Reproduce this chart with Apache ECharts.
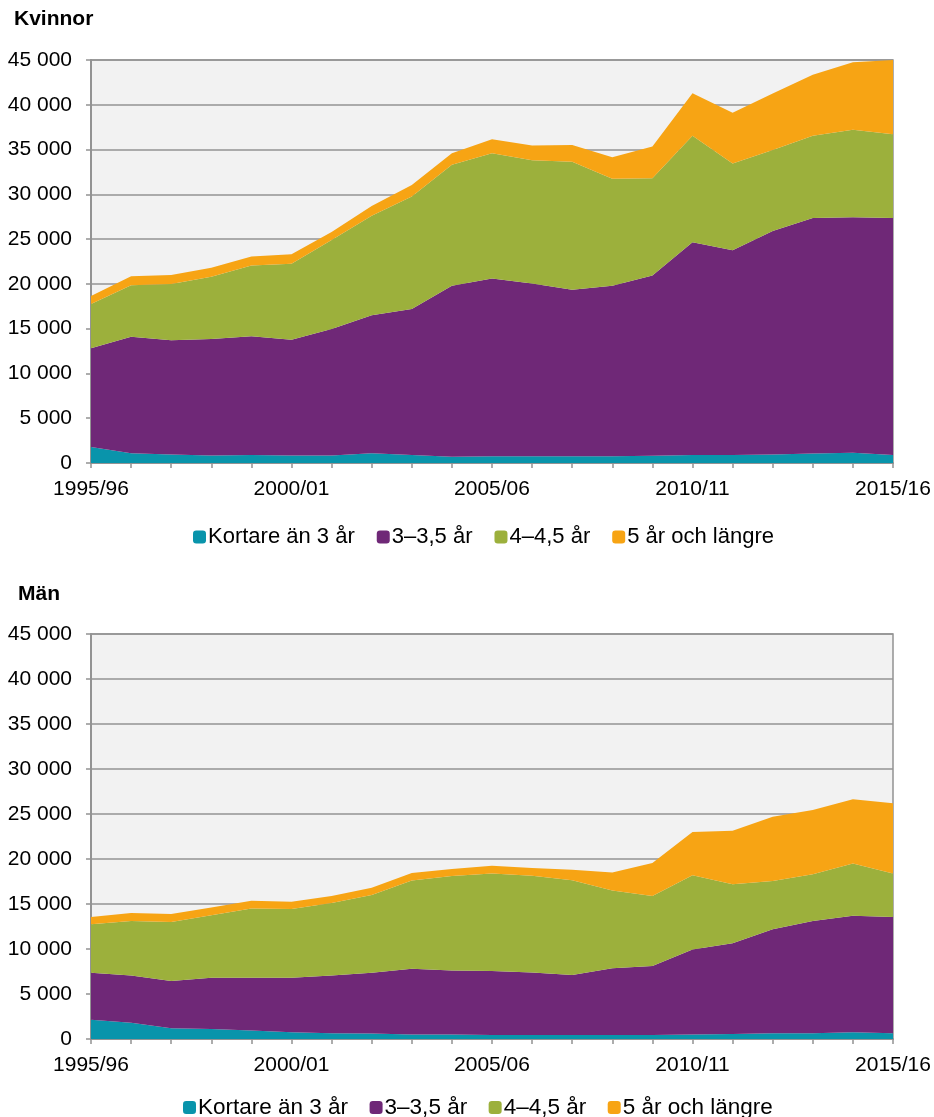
<!DOCTYPE html>
<html>
<head>
<meta charset="utf-8">
<script src="https://cdn.jsdelivr.net/npm/echarts@6/dist/echarts.min.js"></script>
<style>
  html, body { margin: 0; padding: 0; background: #fff; }
  #chart { width: 934px; height: 1117px; }
</style>
</head>
<body>
<div id="chart"></div>
<script>
// läsår
const years = ['1995/96','1996/97','1997/98','1998/99','1999/00','2000/01','2001/02','2002/03','2003/04','2004/05',
  '2005/06','2006/07','2007/08','2008/09','2009/10','2010/11','2011/12','2012/13','2013/14','2014/15','2015/16']

const seriesNames = ['Kortare än 3 år', '3–3,5 år', '4–4,5 år', '5 år och längre']

// Kvinnor
const womenShort = [1800,1100,950,850,900,850,850,1100,900,700,750,750,750,750,800,900,900,950,1050,1150,900]
const women3 = [11000,13000,12750,13000,13250,12900,14100,15400,16300,19100,19850,19300,18600,19050,20150,23750,22850,24950,26300,26300,26450]
const women4 = [4950,5750,6300,6950,7900,8500,9950,11100,12550,13500,14000,13750,14300,11950,10850,11900,9700,9050,9200,9750,9350]
const women5 = [900,1000,1000,1000,1000,1050,900,1100,1300,1300,1550,1650,1850,2400,3550,4750,5650,6300,6800,7550,8300]

// Män
const menShort = [2150,1800,1200,1100,950,750,650,600,500,500,450,450,450,450,450,500,550,650,650,750,650]
const men3 = [5200,5250,5250,5700,5850,6050,6400,6750,7300,7100,7100,6950,6650,7400,7650,9450,10100,11550,12450,12950,12900]
const men4 = [5400,6050,6550,6950,7700,7650,8050,8650,9800,10500,10850,10750,10550,8650,7800,8250,6550,5350,5200,5800,4850]
const men5 = [800,900,900,850,850,800,800,800,850,800,850,850,1150,2000,3650,4800,5950,7150,7150,7150,7800]

const colors = ['#0994ab', '#6f2877', '#9cb03c', '#f7a414']

const font = "'Liberation Sans', Arial, sans-serif"
const gridColor = '#939393'

function fmt(v) {
    return String(v).replace(/\B(?=(\d{3})+(?!\d))/g, ' ')
}

function makeX(idx) {
    return {
        type: 'category',
        gridIndex: idx,
        data: years,
        boundaryGap: false,
        axisLine: { show: true, lineStyle: { color: gridColor, width: 2 } },
        axisTick: { show: true, interval: 0, length: 5, lineStyle: { color: gridColor, width: 1.5 } },
        axisLabel: { interval: 4, margin: 16, fontSize: 21, color: '#000', fontFamily: font },
        splitLine: { show: false }
    }
}

function makeY(idx) {
    return {
        type: 'value',
        gridIndex: idx,
        min: 0,
        max: 45000,
        interval: 5000,
        axisLine: { show: true, lineStyle: { color: gridColor, width: 2 } },
        axisTick: { show: true, length: 5, lineStyle: { color: gridColor, width: 1.5 } },
        axisLabel: { margin: 19, fontSize: 21, color: '#000', fontFamily: font, formatter: fmt },
        splitLine: { show: true, lineStyle: { color: gridColor, width: 1.5 } }
    }
}

function makeSeries(idx, lists) {
    return lists.map((d, i) => ({
        name: seriesNames[i],
        type: 'line',
        xAxisIndex: idx,
        yAxisIndex: idx,
        stack: 'total' + idx,
        data: d,
        showSymbol: false,
        lineStyle: { width: 0 },
        areaStyle: { color: colors[i], opacity: 1 },
        itemStyle: { color: colors[i] },
        z: 2
    }))
}

function makeLegend(top, left, size, gap) {
    return {
        top: top,
        left: left,
        padding: 0,
        itemGap: gap,
        itemWidth: 13,
        itemHeight: 13,
        icon: 'roundRect',
        textStyle: { fontSize: size, color: '#000', fontFamily: font, padding: [0, 0, 0, -3] },
        data: seriesNames
    }
}

const chart = echarts.init(document.getElementById('chart'))
const option = {
    animation: false,
    color: colors,
    title: [
        { text: 'Kvinnor', left: 14, top: 9, padding: 0, textStyle: { fontSize: 21, fontWeight: 'bold', color: '#000', fontFamily: font } },
        { text: 'Män', left: 18, top: 584, padding: 0, textStyle: { fontSize: 21, fontWeight: 'bold', color: '#000', fontFamily: font } }
    ],
    legend: [makeLegend(526, 193, 22, 22), makeLegend(1096, 183, 22.5, 21.5)],
    grid: [
        { left: 91, right: 41, top: 60, height: 403, show: true, backgroundColor: '#f2f2f2', borderColor: gridColor, borderWidth: 1.5 },
        { left: 91, right: 41, top: 634, height: 405, show: true, backgroundColor: '#f2f2f2', borderColor: gridColor, borderWidth: 1.5 }
    ],
    xAxis: [makeX(0), makeX(1)],
    yAxis: [makeY(0), makeY(1)],
    series: makeSeries(0, [womenShort, women3, women4, women5]).concat(makeSeries(1, [menShort, men3, men4, men5]))
}
chart.setOption(option)
</script>
</body>
</html>
